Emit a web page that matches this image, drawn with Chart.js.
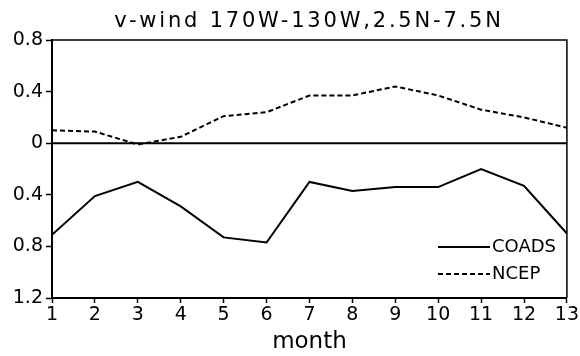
<!DOCTYPE html>
<html>
<head>
<meta charset="utf-8">
<script src="https://cdn.jsdelivr.net/npm/chart.js@4"></script>
<style>
  html, body { margin: 0; padding: 0; background: #fff; }
  #wrap { width: 580px; height: 356px; }
</style>
</head>
<body>
<div id="wrap"><canvas id="windChart" width="580" height="356"></canvas></div>
<script>
// months 1..13 (13 = january again)
const months = [1, 2, 3, 4, 5, 6, 7, 8, 9, 10, 11, 12, 13];
const coads = [-0.71, -0.41, -0.30, -0.49, -0.73, -0.77, -0.30, -0.37, -0.34, -0.34, -0.20, -0.33, -0.70];
const ncep = [0.10, 0.09, -0.01, 0.05, 0.21, 0.24, 0.37, 0.37, 0.44, 0.37, 0.26, 0.20, 0.12];
const yTicks = [0.8, 0.4, 0, -0.4, -0.8, -1.2];
const titleText = 'v-wind 170W-130W,2.5N-7.5N';
const xTitle = 'month';

const FONT = '"DejaVu Sans", sans-serif';

// zero line + frame + title + legend drawn on the canvas
const decorations = {
  id: 'decorations',
  afterDraw(chart) {
    const ctx = chart.ctx;
    const a = chart.chartArea;
    const y = chart.scales.y;
    ctx.save();
    ctx.strokeStyle = '#000';
    ctx.lineWidth = 2;
    ctx.beginPath();
    ctx.moveTo(a.left, y.getPixelForValue(0));
    ctx.lineTo(a.right, y.getPixelForValue(0));
    ctx.stroke();
    ctx.lineWidth = 1.5;
    ctx.beginPath();
    ctx.moveTo(a.left, a.top);
    ctx.lineTo(a.right, a.top);
    ctx.lineTo(a.right, a.bottom);
    ctx.stroke();

    // title
    ctx.fillStyle = '#000';
    ctx.font = '21px ' + FONT;
    ctx.letterSpacing = '2.8px';
    ctx.textAlign = 'center';
    ctx.textBaseline = 'alphabetic';
    ctx.fillText(titleText, 309, 27);
    ctx.letterSpacing = '0px';

    // legend
    const sets = chart.data.datasets;
    const rows = [247, 274];
    sets.forEach((ds, i) => {
      ctx.strokeStyle = ds.borderColor;
      ctx.lineWidth = ds.borderWidth;
      ctx.setLineDash(ds.borderDash || []);
      ctx.beginPath();
      ctx.moveTo(438, rows[i]);
      ctx.lineTo(490, rows[i]);
      ctx.stroke();
      ctx.setLineDash([]);
      ctx.font = '18px ' + FONT;
      ctx.textAlign = 'left';
      ctx.textBaseline = 'middle';
      ctx.fillText(ds.label, 492, rows[i]);
    });
    ctx.restore();
  }
};

new Chart(document.getElementById('windChart'), {
  type: 'line',
  data: {
    labels: months,
    datasets: [
      {
        label: 'COADS',
        data: months.map((m, i) => ({ x: m, y: coads[i] })),
        borderColor: '#000',
        borderWidth: 2,
        pointRadius: 0,
        tension: 0
      },
      {
        label: 'NCEP',
        data: months.map((m, i) => ({ x: m, y: ncep[i] })),
        borderColor: '#000',
        borderWidth: 2,
        borderDash: [5, 3],
        pointRadius: 0,
        tension: 0
      }
    ]
  },
  options: {
    responsive: false,
    animation: false,
    layout: { padding: { top: 40, right: 12, bottom: 0, left: 0 } },
    plugins: {
      legend: { display: false },
      tooltip: { enabled: false }
    },
    scales: {
      x: {
        type: 'linear',
        min: 1,
        max: 13,
        afterFit: s => { s.height = 58; },
        ticks: {
          stepSize: 1,
          color: '#000',
          font: { family: FONT, size: 19 },
          padding: 1
        },
        grid: {
          drawOnChartArea: false,
          color: '#000',
          tickLength: 5,
          tickWidth: 1.5
        },
        border: { color: '#000', width: 2 },
        title: {
          display: true,
          text: xTitle,
          color: '#000',
          font: { family: FONT, size: 23 },
          padding: { top: 0, bottom: 0 }
        }
      },
      y: {
        min: -1.2,
        max: 0.8,
        afterFit: s => { s.width = 52; },
        afterBuildTicks: s => { s.ticks = yTicks.map(v => ({ value: v })); },
        ticks: {
          color: '#000',
          font: { family: FONT, size: 19 },
          padding: 3,
          callback: v => v === 0 ? '0' : Math.abs(v).toFixed(1)
        },
        grid: {
          drawOnChartArea: false,
          color: '#000',
          tickLength: 6,
          tickWidth: 1.5
        },
        border: { color: '#000', width: 2 }
      }
    }
  },
  plugins: [decorations]
});
</script>
</body>
</html>
